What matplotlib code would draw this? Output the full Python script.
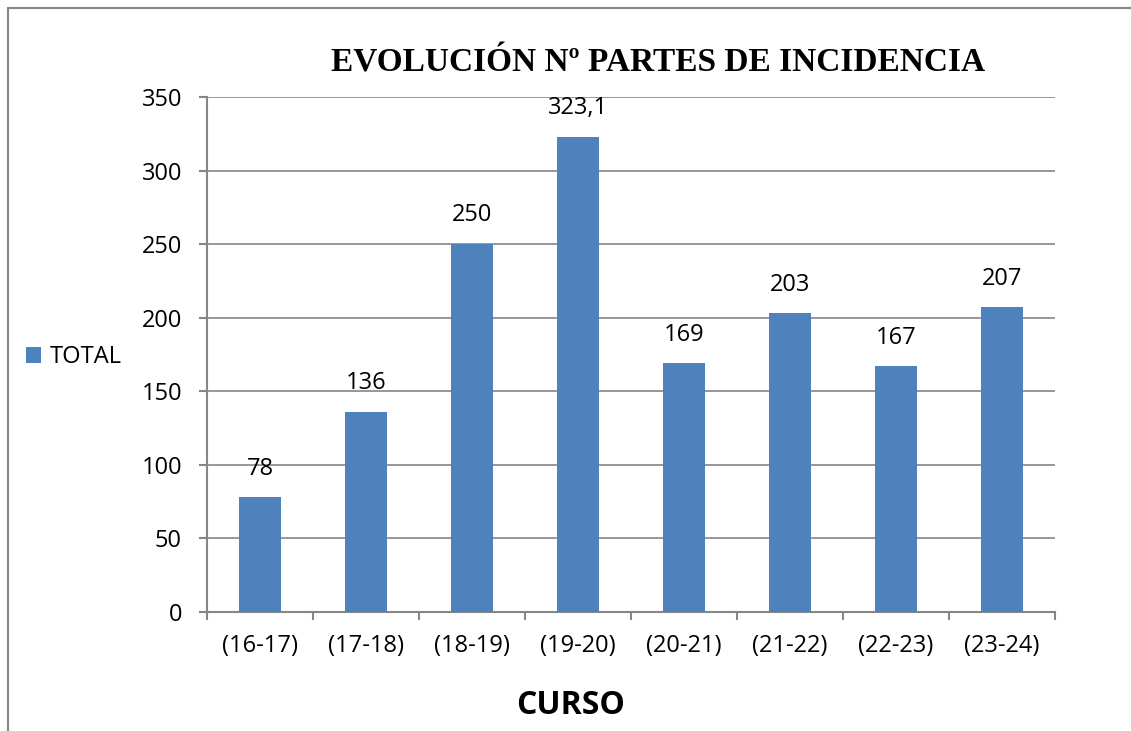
import matplotlib
matplotlib.use('Agg')
import matplotlib.pyplot as plt
from matplotlib.patches import Rectangle

cursos = ['(16-17)', '(17-18)', '(18-19)', '(19-20)', '(20-21)', '(21-22)', '(22-23)', '(23-24)']
total = [78, 136, 250, 323.1, 169, 203, 167, 207]
etiquetas = ['78', '136', '250', '323,1', '169', '203', '167', '207']
yticks = [0, 50, 100, 150, 200, 250, 300, 350]

W, H = 1131, 731
gris = '#868686'
azul = '#4F81BD'
plt.rcParams['font.family'] = ['Open Sans', 'DejaVu Sans']

fig = plt.figure(figsize=(W / 100, H / 100), dpi=100)
ax = fig.add_axes([207 / W, 1 - 612 / H, 848 / W, 515 / H])

x = range(len(cursos))
ax.bar(x, total, width=0.4, color=azul, label='TOTAL', zorder=3)
for i, v in enumerate(total):
    ax.annotate(etiquetas[i], (i, v), xytext=(0, 12), textcoords='offset points',
                ha='center', va='bottom', fontsize=17, color='black')

ax.set_xlim(-0.5, len(cursos) - 0.5)
ax.set_ylim(0, 350)
ax.set_yticks(yticks)
ax.set_yticklabels([str(t) for t in yticks], fontsize=17)
ax.yaxis.grid(True, color=gris, linewidth=1.2, zorder=0)
ax.set_axisbelow(True)

# category ticks at boundaries, labels centred
ax.set_xticks([i + 0.5 for i in range(-1, len(cursos))])
ax.set_xticklabels([])
ax.set_xticks(list(x), minor=True)
ax.set_xticklabels(cursos, minor=True, fontsize=17)
ax.tick_params(axis='x', which='major', length=6, color=gris, width=1.5)
ax.tick_params(axis='x', which='minor', length=0, pad=16)
ax.tick_params(axis='y', length=6, color=gris, width=1.5, pad=12)

for s in ['top', 'right']:
    ax.spines[s].set_visible(False)
for s in ['left', 'bottom']:
    ax.spines[s].set_color(gris)
    ax.spines[s].set_linewidth(1.5)

fig.text(658 / W, 1 - 63 / H, 'EVOLUCIÓN Nº PARTES DE INCIDENCIA', ha='center', va='center',
         fontsize=24, fontweight='bold', family=['Liberation Serif', 'DejaVu Serif'])
fig.text(571 / W, 1 - 705 / H, 'CURSO', ha='center', va='center', fontsize=23, fontweight='bold')

fig.legend(loc='center left', bbox_to_anchor=(26 / W, 1 - 357 / H), frameon=False,
           fontsize=17, handlelength=0.65, handleheight=0.65, handletextpad=0.35, borderpad=0,
           borderaxespad=0)

fig.add_artist(Rectangle((8 / W, -0.1), 1.2, (H - 8) / H + 0.1, transform=fig.transFigure,
                         fill=False, edgecolor=gris, linewidth=1.5))

fig.savefig('out.png', dpi=100)
